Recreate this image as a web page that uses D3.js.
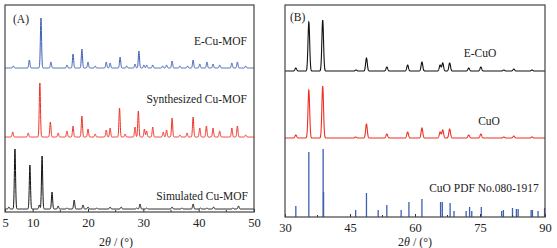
<!DOCTYPE html>
<html>
<head>
<meta charset="utf-8">
<script src="https://cdn.jsdelivr.net/npm/d3@7"></script>
<style>
    body { margin: 0; background: #fff; }
    text { font-family: "Liberation Serif", "DejaVu Serif", serif; fill: #222; }
</style>
</head>
<body>
<div id="chart"></div>
<script>
// Panel A tick labels and peak lists [2theta, intensity above baseline]
var ticksA = [5, 10, 20, 30, 40, 50];
var minorA = [15, 25, 35, 45];

var peaksECuMOF = [
    [6.5, 2], [9.4, 8], [11.5, 50], [13.3, 6], [16.2, 3], [17.3, 14], [18.9, 19],
    [20.0, 6], [21.3, 2], [23.3, 6], [24.0, 5], [25.8, 11], [27.0, 2], [28.5, 4],
    [29.2, 17], [30.1, 3], [30.6, 3], [31.7, 3], [33.5, 2], [34.2, 3], [35.2, 7],
    [36.6, 2], [38.0, 2], [39.0, 8], [40.2, 4], [41.5, 6], [42.6, 4], [43.8, 3],
    [46.0, 5], [47.0, 6], [48.5, 2]
];

var peaksSynth = [
    [6.4, 5], [9.2, 4], [11.3, 54], [13.2, 15], [14.6, 4], [16.2, 6], [17.3, 11],
    [18.9, 21], [20.0, 8], [21.3, 3], [23.3, 7], [24.0, 9], [25.7, 29], [26.7, 3],
    [28.5, 10], [29.1, 26], [30.2, 8], [30.6, 6], [31.7, 10], [33.6, 5], [34.2, 7],
    [35.2, 19], [36.6, 2], [37.9, 4], [39.0, 20], [40.2, 9], [41.4, 11], [42.6, 9],
    [43.8, 6], [46.0, 9], [47.0, 11], [48.5, 2]
];

var peaksSimul = [
    [5.7, 2], [6.8, 60], [9.5, 44], [11.2, 4], [11.7, 53], [13.5, 17], [14.6, 3],
    [16.2, 1], [17.5, 9], [19.1, 4], [20.0, 2], [21.6, 1], [24.0, 2], [26.0, 2],
    [28.8, 1], [29.4, 5], [30.6, 1], [35.2, 2], [37.0, 1], [39.0, 5], [40.3, 1],
    [41.5, 1], [42.7, 2], [46.2, 1], [47.2, 3]
];

// Panel B tick labels and peak lists
var ticksB = [30, 45, 60, 75, 90];
var minorB = [37.5, 52.5, 67.5, 82.5];

var peaksECuO = [
    [32.5, 3], [35.5, 49], [38.7, 51], [46.4, 1], [48.8, 13], [53.5, 4], [58.3, 6],
    [61.6, 9], [65.8, 6], [66.4, 8], [68.0, 8], [72.4, 3], [75.2, 4], [80.5, 1],
    [82.8, 2], [87.0, 1]
];

var peaksCuO = [
    [32.5, 3], [35.5, 48], [38.7, 52], [46.3, 1], [48.8, 14], [53.5, 4], [58.3, 6],
    [61.6, 10], [65.8, 6], [66.4, 8], [68.0, 9], [72.4, 3], [75.2, 4], [80.5, 1],
    [82.8, 2], [87.0, 1]
];

var sticksPDF = [
    [32.5, 11], [35.5, 65], [38.8, 68], [38.9, 25], [46.3, 7], [48.8, 24], [51.5, 7],
    [53.5, 12], [56.8, 7], [58.6, 15], [61.6, 18], [65.9, 15], [66.3, 15], [68.1, 14],
    [69.0, 6], [71.8, 6], [72.6, 10], [73.1, 6], [75.3, 10], [80.0, 6], [80.4, 7],
    [82.5, 9], [83.4, 8], [83.8, 8], [86.8, 7], [87.1, 7], [88.4, 6], [89.9, 9]
];

function init() {
    var w = 557;
    var h = 248;

    var svg = d3.select("#chart")
        .append("svg")
        .attr("width", w)
        .attr("height", h);

    // Turn a peak list into a profile (sum of narrow gaussians)
    function profile(peaks, x0, x1, step, s, offset) {
        var pts = [];
        for (var x = x0; x <= x1 + 1e-9; x += step) {
            var y = 0;
            peaks.forEach(function(p) {
                var d = (x - p[0]) / s;
                if (Math.abs(d) < 6) y += p[1] * Math.exp(-d * d);
            });
            pts.push([x, offset + y]);
        }
        return pts;
    }

    function drawFrame(g, x, y, ticks, minor, titleX) {
        var r = x.range();
        var yr = y.range();

        var xAxis = d3.axisBottom(x)
            .tickValues(ticks)
            .tickSizeInner(-3)
            .tickSizeOuter(0)
            .tickPadding(6)
            .tickFormat(d3.format("d"));

        var ax = g.append("g")
            .attr("transform", "translate(0," + yr[0] + ")")
            .call(xAxis);
        ax.select(".domain").remove();
        ax.selectAll("line").attr("stroke", "#333");
        ax.selectAll("text")
            .style("font-size", "12.5px")
            .style("font-family", "Liberation Serif")
            .attr("fill", "#222");

        // minor ticks
        g.selectAll(".minor")
            .data(minor)
            .enter()
            .append("line")
            .attr("x1", function(d) { return x(d); })
            .attr("x2", function(d) { return x(d); })
            .attr("y1", yr[0])
            .attr("y2", yr[0] - 2)
            .attr("stroke", "#333");

        g.append("rect")
            .attr("x", r[0])
            .attr("y", yr[1])
            .attr("width", r[1] - r[0])
            .attr("height", yr[0] - yr[1])
            .attr("fill", "none")
            .attr("stroke", "#444")
            .attr("stroke-width", 1.2);

        var t = g.append("text")
            .attr("x", titleX)
            .attr("y", 246)
            .attr("text-anchor", "middle")
            .style("font-size", "12px");
        t.append("tspan").text("2");
        t.append("tspan").style("font-style", "italic").text("\u03b8");
        t.append("tspan").text(" / (\u00b0)");
    }

    function label(g, x, y, txt, anchor) {
        g.append("text")
            .attr("x", x)
            .attr("y", y)
            .attr("dy", "0.35em")
            .attr("text-anchor", anchor)
            .style("font-size", "11.5px")
            .text(txt);
    }

    // ---------- Panel A ----------
    var xA = d3.scaleLinear().domain([5, 50]).range([5, 254]);
    var yA = d3.scaleLinear().domain([0, 207]).range([212, 5]);
    var gA = svg.append("g");

    var lineA = d3.line()
        .x(function(d) { return xA(d[0]); })
        .y(function(d) { return yA(d[1]); });

    var tracesA = [
        { peaks: peaksSimul, offset: 3, color: "#111" },
        { peaks: peaksSynth, offset: 75, color: "#ee3024" },
        { peaks: peaksECuMOF, offset: 144, color: "#3c5fb4" }
    ];

    gA.selectAll(".traceA")
        .data(tracesA)
        .enter()
        .append("path")
        .attr("d", function(d) { return lineA(profile(d.peaks, 5, 50, 0.02, 0.15, d.offset)); })
        .attr("fill", "none")
        .attr("stroke", function(d) { return d.color; })
        .attr("stroke-width", 1);

    drawFrame(gA, xA, yA, ticksA, minorA, 116);

    label(gA, 13, 19, "(A)", "start");
    label(gA, 247, 41, "E-Cu-MOF", "end");
    label(gA, 247, 99, "Synthesized Cu-MOF", "end");
    label(gA, 248, 196, "Simulated Cu-MOF", "end");

    // ---------- Panel B ----------
    var xB = d3.scaleLinear().domain([30, 90]).range([285, 545]);
    var yB = d3.scaleLinear().domain([0, 212]).range([217, 5]);
    var gB = svg.append("g");

    var lineB = d3.line()
        .x(function(d) { return xB(d[0]); })
        .y(function(d) { return yB(d[1]); });

    var tracesB = [
        { peaks: peaksCuO, offset: 79, color: "#ee3024" },
        { peaks: peaksECuO, offset: 146, color: "#111" }
    ];

    gB.selectAll(".traceB")
        .data(tracesB)
        .enter()
        .append("path")
        .attr("d", function(d) { return lineB(profile(d.peaks, 30, 90, 0.03, 0.27, d.offset)); })
        .attr("fill", "none")
        .attr("stroke", function(d) { return d.color; })
        .attr("stroke-width", 1.1);

    // reference pattern sticks
    gB.selectAll(".stick")
        .data(sticksPDF)
        .enter()
        .append("line")
        .attr("x1", function(d) { return xB(d[0]); })
        .attr("x2", function(d) { return xB(d[0]); })
        .attr("y1", yB(0))
        .attr("y2", function(d) { return yB(d[1]); })
        .attr("stroke", "#3c5fb4")
        .attr("stroke-width", 1.3);

    drawFrame(gB, xB, yB, ticksB, minorB, 415);

    label(gB, 290, 17, "(B)", "start");
    label(gB, 480, 53, "E-CuO", "middle");
    label(gB, 489, 121, "CuO", "middle");
    label(gB, 484, 188, "CuO PDF No.080-1917", "middle");
}

window.onload = init;
</script>
</body>
</html>
